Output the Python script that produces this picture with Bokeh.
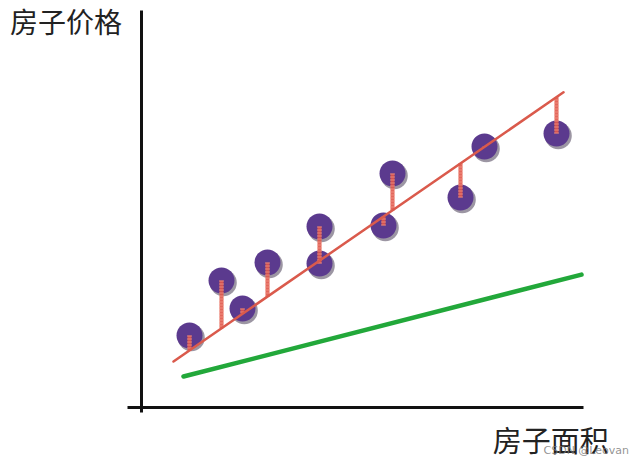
import numpy as np
from bokeh.plotting import figure
from bokeh.models import Range1d
from bokeh.core.properties import value
from bokeh.embed import file_html
from bokeh.resources import INLINE

# ---- data (house area vs. house price, arbitrary units) ----
area = [12, 20, 25.25, 31.5, 44.5, 44.5, 60.5, 62.75, 79.75, 85.75, 103.75]
price = [18, 31.75, 24.75, 36.25, 45.25, 36, 45.5, 58.5, 52.5, 65.25, 68.5]

# good fit (red) and poor fit (green): intercept, slope, x extent
fit_good = (6.0, 0.69)
fit_good_x = [8, 105.5]
fit_poor = (5.06, 0.256)
fit_poor_x = [10.5, 110]

# axis extents
x_axis_span = [-3.5, 110.5]
y_axis_span = [-1.25, 99.25]

y_title = "房子价格"
x_title = "房子面积"
watermark = "CSDN @Leovan"

W, H = 638, 464
p = figure(width=W, height=H, output_backend="svg", toolbar_location=None,
           x_range=Range1d(-35.25, 124.25), y_range=Range1d(-14.25, 101.75),
           min_border=0)
p.axis.visible = False
p.grid.visible = False
p.outline_line_color = None
p.background_fill_color = "white"
p.border_fill_color = "white"

# hand-drawn axes
p.segment(x0=[x_axis_span[0]], y0=[0], x1=[x_axis_span[1]], y1=[0],
          line_color="#111111", line_width=3)
p.segment(x0=[0], y0=[y_axis_span[0]], x1=[0], y1=[y_axis_span[1]],
          line_color="#111111", line_width=3)

# poor fit line
gx = np.array(fit_poor_x)
p.line(gx, fit_poor[0] + fit_poor[1] * gx, line_color="#22a83a", line_width=4.5,
       line_cap="round")

# points with shadow
ax = np.array(area)
py = np.array(price)
p.scatter(ax + 0.45, py - 0.55, size=27, fill_color="#241634", fill_alpha=0.45,
          line_color=None)
p.scatter(ax, py, size=26, fill_color="#5b3a8e", line_color=None)

# residuals (textured red springs)
fit_at = fit_good[0] + fit_good[1] * ax
p.segment(x0=ax, y0=py, x1=ax, y1=fit_at, line_color="#e0574a", line_width=4,
          line_alpha=0.9)
p.segment(x0=ax, y0=py, x1=ax, y1=fit_at, line_color="#f3a090", line_width=5,
          line_dash="1 2", line_alpha=0.7)

# good fit line
rx = np.array(fit_good_x)
p.line(rx, fit_good[0] + fit_good[1] * rx, line_color="#da5a4c", line_width=2.5,
       line_cap="round")

# titles
p.text(x=[-32.9], y=[96.6], text=[y_title], text_font=value("Noto Sans CJK SC"),
       text_font_size="28px", text_color="#222222", text_baseline="middle",
       text_align="left")
p.text(x=[87.8], y=[-7.75], text=[x_title], text_font=value("Noto Sans CJK SC"),
       text_font_size="29px", text_color="#222222", text_baseline="middle",
       text_align="left")
p.text(x=[100.5], y=[-10.75], text=[watermark], text_font=value("DejaVu Sans"),
       text_font_size="11px", text_color="#777777", text_alpha=0.8,
       text_baseline="middle", text_align="left")

open("out.html", "w").write(file_html(p, INLINE))
